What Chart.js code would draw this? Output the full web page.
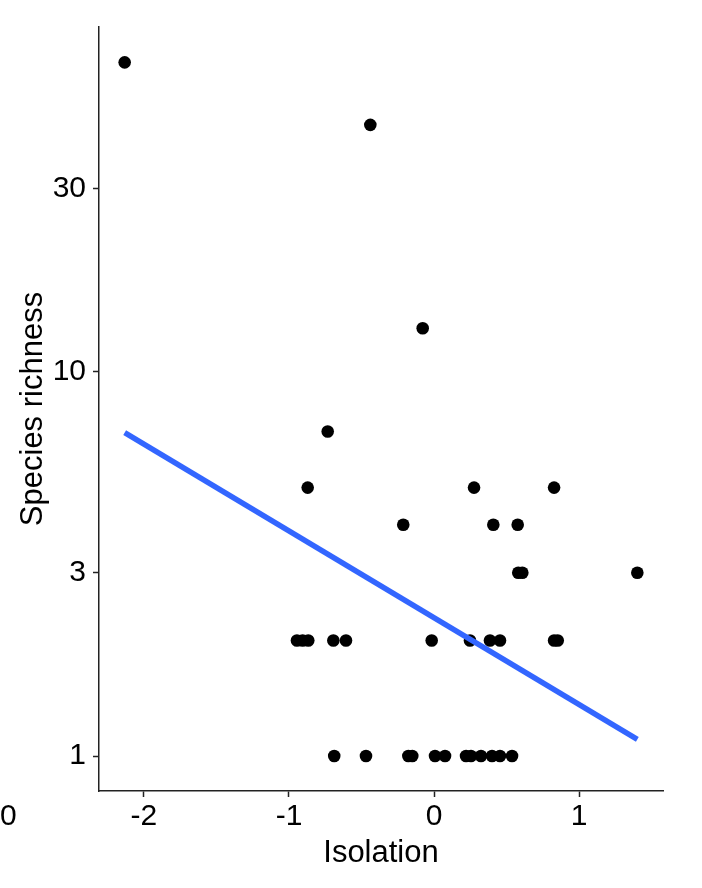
<!DOCTYPE html>
<html>
<head>
<meta charset="utf-8">
<script src="https://cdn.jsdelivr.net/npm/chart.js@4"></script>
<style>
  body { margin: 0; background: #fff; }
  #wrap { position: relative; width: 702px; height: 888px; }
  #stray { position: absolute; left: 0; top: 798px; font: 30px "Liberation Sans", Arial, sans-serif; color: #000; }
</style>
</head>
<body>
<div id="wrap">
  <canvas id="myChart" width="702" height="888"></canvas>
  <span id="stray">0</span>
</div>
<script>
// observed points (isolation vs species richness)
var isolation = [
    -0.688, -0.469, -0.177, -0.150, 0.007, 0.076, 0.221, 0.255, 0.324, 0.400, 0.455, 0.538,
    -0.945, -0.906, -0.867, -0.694, -0.607, -0.016, 0.248, 0.386, 0.455, 0.828, 0.853,
    0.581, 0.609, 1.402,
    -0.212, 0.409, 0.577,
    -0.871, 0.276, 0.828,
    -0.733, -0.078, -0.439, -2.133
];
var richness = [
    1, 1, 1, 1, 1, 1, 1, 1, 1, 1, 1, 1,
    2, 2, 2, 2, 2, 2, 2, 2, 2, 2, 2,
    3, 3, 3,
    4, 4, 4,
    5, 5, 5,
    7, 13, 44, 64
];
// fitted line end points
var fitX = [-2.133, 1.402];
var fitY = [6.95, 1.105];

var xTicks = [-2, -1, 0, 1];
var yTicks = [1, 3, 10, 30];

var chart;

function init_chart() {
    var pts = isolation.map(function(x, i){ return {x: x, y: richness[i]}; });
    var fit = fitX.map(function(x, i){ return {x: x, y: fitY[i]}; });
    var font = '"Liberation Sans", Arial, sans-serif';

    var ctx = document.getElementById('myChart').getContext('2d');
    chart = new Chart(ctx, {
        type: 'scatter',
        data: {
            datasets: [{
                type: 'line',
                data: fit,
                borderColor: '#3366FF',
                borderWidth: 5.5,
                pointRadius: 0,
                fill: false
            }, {
                data: pts,
                backgroundColor: '#000',
                pointRadius: 6.3,
                pointBorderWidth: 0
            }]
        },
        options: {
            responsive: false,
            animation: false,
            layout: { padding: { top: 27, right: 39, left: 0, bottom: 0 } },
            plugins: { legend: { display: false }, tooltip: { enabled: false } },
            scales: {
                x: {
                    type: 'linear',
                    min: -2.31,
                    max: 1.579,
                    afterBuildTicks: function(s){ s.ticks = xTicks.map(function(v){ return {value: v}; }); },
                    afterFit: function(s){ s.height = 97; },
                    grid: { drawOnChartArea: false, tickLength: 6, tickColor: '#222', tickWidth: 1.5 },
                    border: { color: '#222', width: 1.5 },
                    ticks: { color: '#000', padding: 2, font: { family: font, size: 30 } },
                    title: { display: true, text: 'Isolation', color: '#000', padding: { top: 0, bottom: 16 }, font: { family: font, size: 31 } }
                },
                y: {
                    type: 'logarithmic',
                    min: 0.811,
                    max: 79.1,
                    afterBuildTicks: function(s){ s.ticks = yTicks.map(function(v){ return {value: v}; }); },
                    afterFit: function(s){ s.width = 99; },
                    grid: { drawOnChartArea: false, tickLength: 6, tickColor: '#222', tickWidth: 1.5 },
                    border: { color: '#222', width: 1.5 },
                    ticks: { color: '#000', padding: 7, font: { family: font, size: 30 }, callback: function(v){ return String(v); } },
                    title: { display: true, text: 'Species richness', color: '#000', padding: { top: 15, bottom: 0 }, font: { family: font, size: 31 } }
                }
            }
        }
    });
}

init_chart();
</script>
</body>
</html>
